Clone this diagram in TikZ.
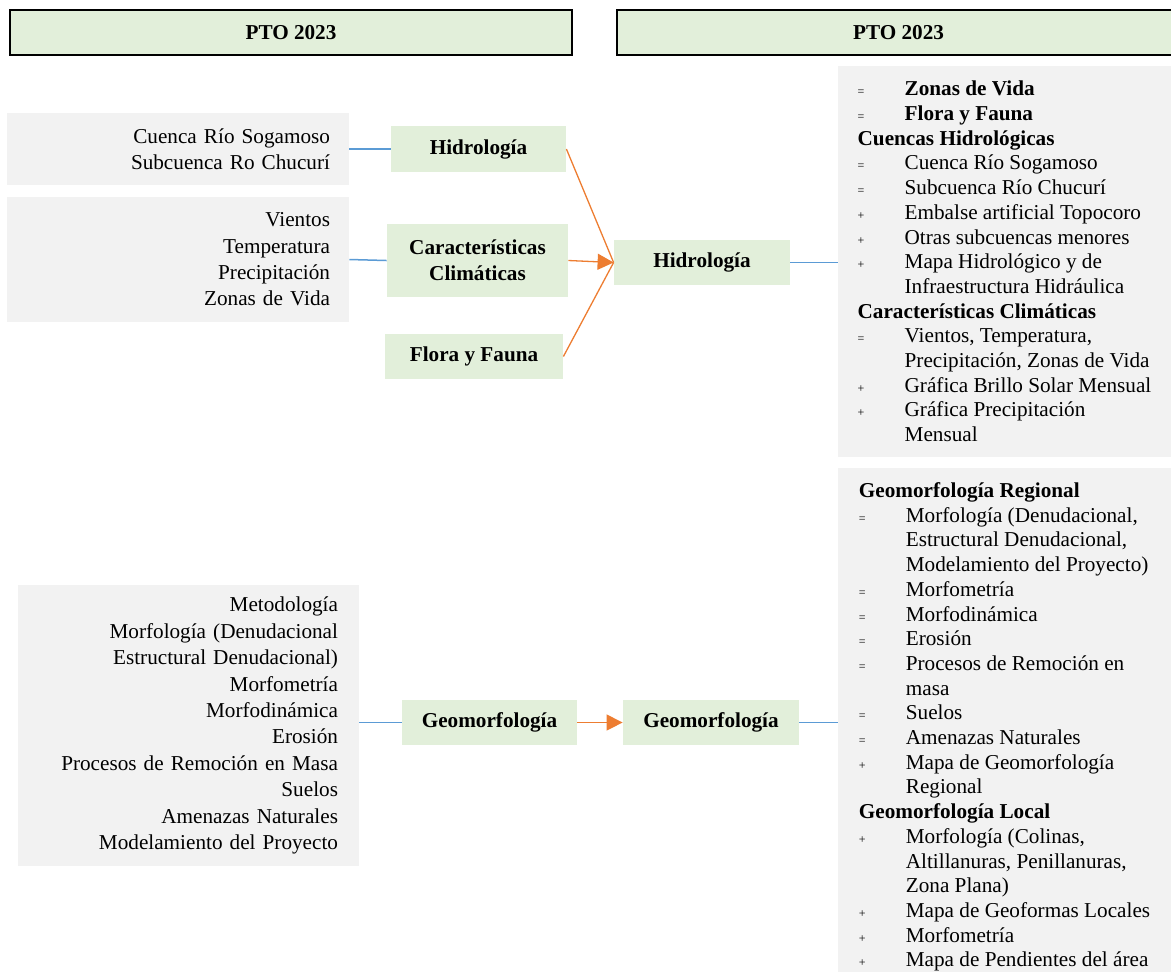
\documentclass[tikz,border=0pt]{standalone}
\usepackage{fontspec}
\setmainfont{Liberation Serif}
\usetikzlibrary{arrows.meta}
\definecolor{verde}{HTML}{E2EFDA}
\definecolor{gris}{HTML}{F2F2F2}
\definecolor{azul}{HTML}{5B9BD5}
\definecolor{naranja}{HTML}{ED7D31}
\newcommand{\igual}{\makebox[23.5pt][l]{\fontsize{6}{6}\selectfont =}}
\newcommand{\mas}{\makebox[23.5pt][l]{\fontsize{6}{6}\selectfont +}}
\newcommand{\sigue}{\hspace*{23.5pt}}

\begin{document}
\begin{tikzpicture}[x=0.5pt,y=-0.5pt,
    titulo/.style={draw=black,line width=1pt,fill=verde,font=\fontsize{10.6}{13}\selectfont\bfseries,minimum height=22.5pt},
    caja/.style={fill=gris,inner sep=0pt,font=\fontsize{10.6}{13.2}\selectfont,align=right},
    tema/.style={fill=verde,font=\fontsize{10.6}{13}\selectfont\bfseries,align=center},
    lista/.style={fill=gris,font=\fontsize{10.6}{12.35}\selectfont,align=left,minimum width=166.5pt},
    azulline/.style={azul,line width=0.75pt},
    naranjaline/.style={naranja,line width=0.65pt},
    punta/.style={-{Triangle[length=8pt,width=8pt]}}]
      \clip (0,0) rectangle (1171,971) ;
      % cabeceras
      \node[titulo,minimum width=281pt] (ptoA) at (291,32.5) {PTO 2023} ;
      \node[titulo,minimum width=281.5pt] (ptoB) at (898.5,32.5) {PTO 2023} ;
      % cajas de la izquierda
      \node[caja,text width=152pt,minimum width=171pt,minimum height=36pt] %
      (cuenca) at (178,149) {Cuenca Río Sogamoso\\Subcuenca Ro Chucurí} ;
      \node[caja,text width=152pt,minimum width=171pt,minimum height=62.5pt] %
      (vientos) at (178,259.5) {Vientos\\Temperatura\\Precipitación\\Zonas de Vida} ;
      \node[caja,text width=149.5pt,minimum width=170.5pt,minimum height=140.5pt] %
      (geomorf) at (188.5,725.5) {Metodología\\Morfología (Denudacional\\Estructural Denudacional)\\Morfometría\\Morfodinámica\\Erosión\\Procesos de Remoción en Masa\\Suelos\\Amenazas Naturales\\Modelamiento del Proyecto} ;
      % temas
      \node[tema,minimum width=87.5pt,minimum height=23pt] (hidroA) at (478.5,149) {Hidrología} ;
      \node[tema,minimum width=90.5pt,minimum height=36.5pt] (clima) at (477.5,260.5) {Características\\Climáticas} ;
      \node[tema,minimum width=89pt,minimum height=22.5pt] (fauna) at (474,356.5) {Flora y Fauna} ;
      \node[tema,minimum width=88pt,minimum height=22.5pt] (hidroB) at (702,262.5) {Hidrología} ;
      \node[tema,minimum width=87.5pt,minimum height=22.5pt] (geoA) at (489.5,722.5) {Geomorfología} ;
      \node[tema,minimum width=88pt,minimum height=22.5pt] (geoB) at (711,722.5) {Geomorfología} ;
      % listas de la derecha
      \node[lista,minimum height=195.5pt] (listaA) at (1004.5,261.5) {%
        \igual\textbf{Zonas de Vida}\\
        \igual\textbf{Flora y Fauna}\\
        \textbf{Cuencas Hidrológicas}\\
        \igual Cuenca Río Sogamoso\\
        \igual Subcuenca Río Chucurí\\
        \mas Embalse artificial Topocoro\\
        \mas Otras subcuencas menores\\
        \mas Mapa Hidrológico y de\\
        \sigue Infraestructura Hidráulica\\
        \textbf{Características Climáticas}\\
        \igual Vientos, Temperatura,\\
        \sigue Precipitación, Zonas de Vida\\
        \mas Gráfica Brillo Solar Mensual\\
        \mas Gráfica Precipitación\\
        \sigue Mensual} ;
      \node[lista,minimum height=259pt] (listaB) at (1004.5,727) {%
        \textbf{Geomorfología Regional}\\
        \igual Morfología (Denudacional,\\
        \sigue Estructural Denudacional,\\
        \sigue Modelamiento del Proyecto)\\
        \igual Morfometría\\
        \igual Morfodinámica\\
        \igual Erosión\\
        \igual Procesos de Remoción en\\
        \sigue masa\\
        \igual Suelos\\
        \igual Amenazas Naturales\\
        \mas Mapa de Geomorfología\\
        \sigue Regional\\
        \textbf{Geomorfología Local}\\
        \mas Morfología (Colinas,\\
        \sigue Altillanuras, Penillanuras,\\
        \sigue Zona Plana)\\
        \mas Mapa de Geoformas Locales\\
        \mas Morfometría\\
        \mas Mapa de Pendientes del área} ;
      % conectores
      \draw[azulline] (cuenca.east) -- (hidroA.west) ;
      \draw[azulline] (vientos.east) -- (clima.west) ;
      \draw[naranjaline] (hidroA.east) -- (hidroB.west) ;
      \draw[naranjaline,punta] (clima.east) -- (hidroB.west) ;
      \draw[naranjaline] (fauna.east) -- (hidroB.west) ;
      \draw[azulline] (hidroB.east) -- (hidroB.east -| listaA.west) ;
      \draw[azulline] (geoA.west -| geomorf.east) -- (geoA.west) ;
      \draw[naranjaline,punta] (geoA.east) -- (geoB.west) ;
      \draw[azulline] (geoB.east) -- (geoB.east -| listaB.west) ;
\end{tikzpicture}
\end{document}
